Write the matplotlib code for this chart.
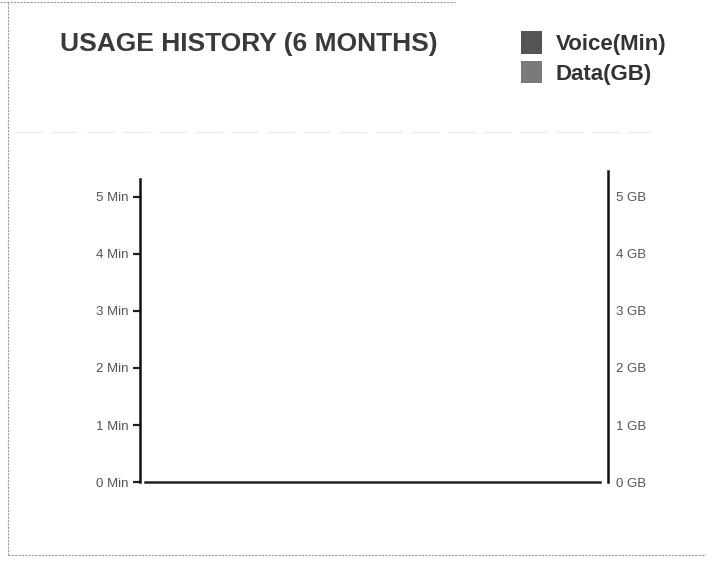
import matplotlib.pyplot as plt
from matplotlib.patches import Patch
from matplotlib.lines import Line2D

# -----------------------------
# Data (chart is empty: no usage recorded)
# -----------------------------
months = ["M1", "M2", "M3", "M4", "M5", "M6"]
voice_min = []
data_gb = []
min_ticks = [0, 1, 2, 3, 4, 5]
min_labels = ["0 Min", "1 Min", "2 Min", "3 Min", "4 Min", "5 Min"]
gb_ticks = [0, 1, 2, 3, 4, 5]
gb_labels = ["0 GB", "1 GB", "2 GB", "3 GB", "4 GB", "5 GB"]
series_names = ["Voice(Min)", "Data(GB)"]
series_colors = ["#555555", "#7a7a7a"]

plt.rcParams['font.family'] = ['Liberation Sans', 'DejaVu Sans']

fig = plt.figure(figsize=(7.06, 5.62), dpi=100)
fig.patch.set_facecolor("white")

# -----------------------------
# Axes
# -----------------------------
ax = fig.add_axes([0.198, 0.142, 0.663, 0.554])
ax2 = ax.twinx()

ax.set_xlim(0, len(months))
ax.set_ylim(0, 5.45)
ax2.set_ylim(0, 5.45)

ax.bar(range(len(voice_min)), voice_min, color=series_colors[0])
ax2.bar(range(len(data_gb)), data_gb, color=series_colors[1])

for a in (ax, ax2):
    a.spines['top'].set_visible(False)
    a.set_xticks([])

ax.spines['right'].set_visible(False)
ax.spines['left'].set_linewidth(1.8)
ax.spines['left'].set_color("#111111")
ax.spines['left'].set_bounds(0, 5.3)
ax.spines['bottom'].set_linewidth(1.8)
ax.spines['bottom'].set_color("#222222")
ax.spines['bottom'].set_bounds(0.07, len(months) - 0.1)

ax2.spines['left'].set_visible(False)
ax2.spines['bottom'].set_visible(False)
ax2.spines['right'].set_linewidth(1.8)
ax2.spines['right'].set_color("#111111")

ax.set_yticks(min_ticks)
ax.set_yticklabels(min_labels)
ax.tick_params(axis='y', direction='out', length=5, width=1.6, color="#222222",
               labelcolor="#555555", labelsize=9.5, pad=3)

ax2.set_yticks(gb_ticks)
ax2.set_yticklabels(gb_labels)
ax2.tick_params(axis='y', length=0, labelcolor="#555555", labelsize=9.5, pad=6)

# -----------------------------
# Title and legend
# -----------------------------
fig.text(0.085, 0.922, "USAGE HISTORY (6 MONTHS)", fontsize=19, fontweight='bold',
         color="#3a3a3a", ha='left', va='center')

handles = [Patch(facecolor=c, edgecolor='none') for c in series_colors]
leg = fig.legend(handles, series_names, loc='upper left', bbox_to_anchor=(0.71, 0.98),
                 frameon=False, handlelength=0.95, handleheight=1.2, handletextpad=0.6,
                 labelspacing=0.25, prop={'size': 16, 'weight': 'bold'})
for t in leg.get_texts():
    t.set_color("#333333")

# -----------------------------
# Scan frame and faint separator
# -----------------------------
frame = "#9a9a9a"
fig.add_artist(Line2D([0.012, 0.012], [0.012, 0.997], color=frame, lw=0.8, ls=(0, (2, 1))))
fig.add_artist(Line2D([0.012, 1.0], [0.013, 0.013], color=frame, lw=0.8, ls=(0, (2, 1))))
fig.add_artist(Line2D([0.0, 0.645], [0.997, 0.997], color=frame, lw=0.8, ls=(0, (2, 1))))
fig.add_artist(Line2D([0.02, 0.92], [0.766, 0.766], color="#ececec", lw=1.0, ls=(0, (20, 6))))

fig.savefig("out.png", dpi=100)
